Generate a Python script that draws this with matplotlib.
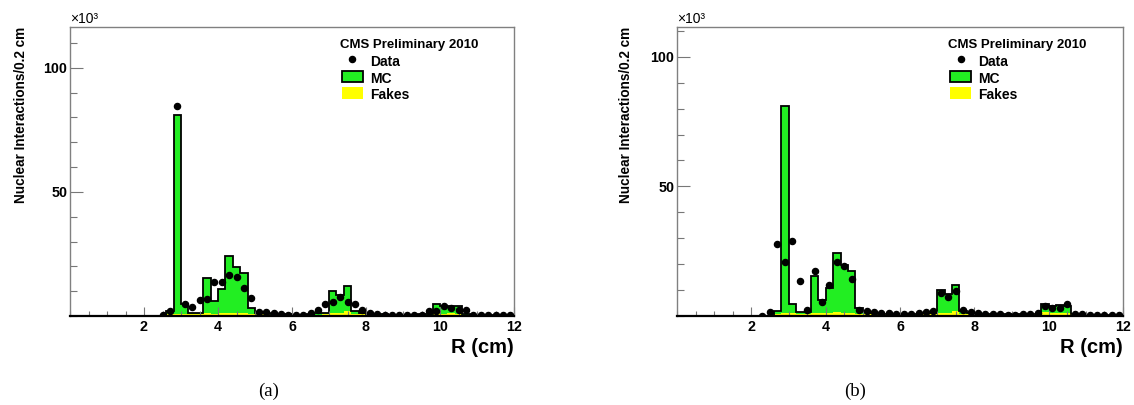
import numpy as np
import matplotlib
matplotlib.use("Agg")
import matplotlib.pyplot as plt
from matplotlib.patches import Rectangle
from matplotlib.ticker import MultipleLocator, FixedLocator

plt.rcParams['font.family'] = ['Liberation Sans', 'DejaVu Sans']

# 60 bins of 0.2 cm from 0 to 12 cm
edges = np.round(np.arange(0, 12.01, 0.2), 2)
centers = edges[:-1] + 0.1

# simulated nuclear interactions (x10^3), same in both panels
mc = [0] * 13 + [
    2.1, 81.1, 4.8, 1.4, 1.4, 15.5, 6.2, 10.8, 24.3, 19.8, 17.5, 3.2,
    1.4, 1.1, 0.9, 0.8, 0.7, 0.6, 0.6, 0.7, 1.1, 1.1,
    10.1, 8.4, 11.9, 2.1, 1.3,
    0.9, 0.8, 0.7, 0.6, 0.6, 0.6, 0.6, 0.7, 0.8,
    4.7, 4.0, 4.1, 4.0, 0.8,
    0.6, 0.5, 0.5, 0.5, 0.5, 0.5]

fakes = [0] * 13 + [
    0.9, 1.0, 1.0, 0.9, 0.9, 1.1, 1.0, 1.2, 1.4, 1.3, 1.2, 0.9,
    0.8, 0.7, 0.6, 0.6, 0.5, 0.5, 0.5, 0.5, 0.6, 0.7,
    1.1, 1.2, 2.0, 0.9, 0.7,
    0.6, 0.5, 0.5, 0.5, 0.5, 0.5, 0.5, 0.5, 0.6,
    1.6, 1.0, 1.1, 1.0, 0.6,
    0.4, 0.4, 0.4, 0.4, 0.4, 0.4]

nan = np.nan
data_a = [nan] * 12 + [
    0.4, 1.9, 84.5, 5.0, 3.8, 6.4, 6.8, 13.6, 13.6, 16.4, 15.6, 11.1, 7.4,
    1.8, 1.5, 1.1, 0.8, 0.6, 0.5, 0.5, 1.1, 2.4, 4.8,
    5.6, 7.6, 5.8, 4.8, 2.4,
    1.4, 0.8, 0.6, 0.5, 0.5, 0.5, 0.5, 0.6, 2.1,
    2.0, 4.0, 3.2, 2.4, 2.4,
    0.5, 0.4, 0.4, 0.3, 0.3, 0.3]

data_b = [nan] * 11 + [
    0.1, 1.5, 27.7, 20.8, 28.9, 13.6, 2.2, 17.3, 5.4, 12.0, 21.0, 19.2, 14.1, 2.5,
    1.8, 1.4, 1.2, 1.0, 0.9, 0.9, 0.9, 1.2, 1.7, 1.8,
    9.0, 7.5, 9.5, 2.2, 1.4,
    1.2, 0.8, 0.7, 0.6, 0.5, 0.5, 0.6, 0.7, 1.0,
    4.0, 2.9, 3.2, 4.8, 0.7,
    0.6, 0.5, 0.5, 0.4, 0.4, 0.3]

panels = [
    ([70 / 1134, 89 / 405, 444 / 1134, 289 / 405], data_a, 116.4, -0.11, '(a)', 269),
    ([677 / 1134, 89 / 405, 446 / 1134, 289 / 405], data_b, 111.5, -0.115, '(b)', 855),
]

green = '#22ee22'
yellow = '#ffff00'

fig = plt.figure(figsize=(11.34, 4.05), dpi=100)

for rect, data, ytop, ylab_x, tag, tag_x in panels:
    ax = fig.add_axes(rect)
    ax.stairs(mc, edges, fill=True, color=green, lw=0)
    ax.stairs(fakes, edges, fill=True, color=yellow, lw=0)
    ax.stairs(mc, edges, color='black', lw=1.3)
    ax.plot(centers, data, 'o', color='black', ms=4.4, ls='none', zorder=5)

    ax.set_xlim(0, 12)
    ax.set_ylim(0, ytop)
    ax.xaxis.set_major_locator(FixedLocator([2, 4, 6, 8, 10, 12]))
    ax.xaxis.set_minor_locator(MultipleLocator(0.5))
    ax.yaxis.set_major_locator(FixedLocator([50, 100]))
    ax.yaxis.set_minor_locator(MultipleLocator(10))
    ax.tick_params(axis='both', which='both', direction='in', color='#777777',
                   top=False, right=False)
    ax.tick_params(axis='y', which='major', length=9.5, width=0.8, pad=2)
    ax.tick_params(axis='y', which='minor', length=5, width=0.8)
    ax.tick_params(axis='x', which='major', length=6.5, width=0.8, pad=3)
    ax.tick_params(axis='x', which='minor', length=3.3, width=0.8)
    for lab in ax.get_xticklabels() + ax.get_yticklabels():
        lab.set_fontweight('bold')
        lab.set_fontsize(10.3)

    for s in ['left', 'top', 'right']:
        ax.spines[s].set_color('#808080')
        ax.spines[s].set_linewidth(1.0)
    ax.spines['bottom'].set_color('black')
    ax.spines['bottom'].set_linewidth(1.6)

    ax.text(0.0, 1.002, '×10³', transform=ax.transAxes, ha='left', va='bottom',
            fontsize=10)
    ax.text(ylab_x, 1.0, 'Nuclear Interactions/0.2 cm', transform=ax.transAxes,
            rotation=90, ha='center', va='top', fontsize=9.8, fontweight='bold')
    ax.text(1.0, -0.128, 'R (cm)', transform=ax.transAxes, ha='right',
            va='baseline', fontsize=14.5, fontweight='bold')

    # legend
    ax.text(0.608, 0.927, 'CMS Preliminary 2010', transform=ax.transAxes,
            ha='left', va='baseline', fontsize=9.5, fontweight='bold')
    ax.plot([0.636], [0.889], 'o', color='black', ms=4.4, transform=ax.transAxes,
            clip_on=False)
    ax.text(0.676, 0.865, 'Data', transform=ax.transAxes, ha='left',
            va='baseline', fontsize=10, fontweight='bold')
    ax.add_patch(Rectangle((0.6126, 0.810), 0.0473, 0.038, transform=ax.transAxes,
                           facecolor=green, edgecolor='black', lw=1.3))
    ax.text(0.676, 0.806, 'MC', transform=ax.transAxes, ha='left',
            va='baseline', fontsize=10, fontweight='bold')
    ax.add_patch(Rectangle((0.6126, 0.751), 0.0473, 0.0415, transform=ax.transAxes,
                           facecolor=yellow, edgecolor='none'))
    ax.text(0.676, 0.751, 'Fakes', transform=ax.transAxes, ha='left',
            va='baseline', fontsize=10, fontweight='bold')

    fig.text(tag_x / 1134, 14 / 405, tag, ha='center', va='center',
             fontsize=13.5, family=['Liberation Serif', 'DejaVu Serif'])

fig.savefig('out.png', dpi=100)
